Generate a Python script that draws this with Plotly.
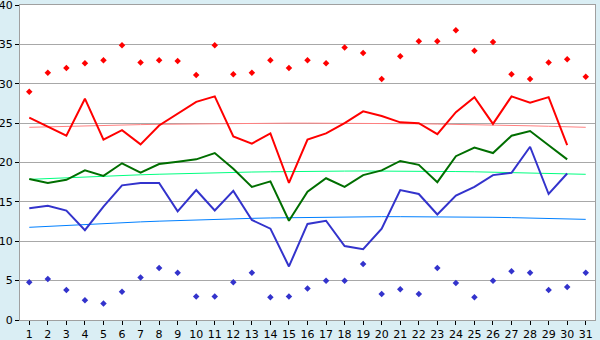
import plotly.graph_objects as go

days = list(range(1, 32))

max_points = [29.0, 31.4, 32.0, 32.6, 33.0, 34.9, 32.7, 33.0, 32.9, 31.1,
              34.9, 31.2, 31.4, 33.0, 32.0, 33.0, 32.6, 34.6, 33.9, 30.6,
              33.5, 35.4, 35.4, 36.8, 34.2, 35.3, 31.2, 30.6, 32.7, 33.1, 30.9]
min_points = [4.8, 5.2, 3.8, 2.5, 2.1, 3.6, 5.4, 6.6, 6.0, 3.0,
              3.0, 4.8, 6.0, 2.9, 3.0, 4.0, 5.0, 5.0, 7.1, 3.3,
              3.9, 3.3, 6.6, 4.7, 2.9, 5.0, 6.2, 6.0, 3.8, 4.2, 6.0]
avg_max = [25.7, 24.5, 23.4, 28.1, 22.9, 24.1, 22.3, 24.7, 26.2, 27.7,
           28.4, 23.3, 22.4, 23.7, 17.4, 22.9, 23.7, 25.0, 26.5, 25.9,
           25.1, 25.0, 23.6, 26.4, 28.3, 24.9, 28.4, 27.6, 28.3, 22.2]
avg_mean = [17.9, 17.4, 17.8, 19.0, 18.3, 19.9, 18.7, 19.8, 20.1, 20.4,
            21.2, 19.2, 16.9, 17.6, 12.6, 16.3, 18.0, 16.9, 18.4, 19.0,
            20.2, 19.7, 17.5, 20.8, 21.9, 21.2, 23.4, 24.0, 22.2, 20.4]
avg_min = [14.2, 14.5, 13.9, 11.4, 14.4, 17.1, 17.4, 17.4, 13.8, 16.5,
           13.9, 16.4, 12.7, 11.6, 6.8, 12.2, 12.6, 9.4, 9.0, 11.6,
           16.5, 16.0, 13.4, 15.8, 16.9, 18.4, 18.7, 22.0, 16.0, 18.6]
trend_max = [24.47, 24.54, 24.60, 24.66, 24.72, 24.76, 24.81, 24.85, 24.88, 24.92,
             24.94, 24.96, 24.98, 24.99, 25.00, 25.00, 25.00, 24.99, 24.98, 24.96,
             24.94, 24.92, 24.88, 24.85, 24.81, 24.76, 24.72, 24.66, 24.60, 24.54, 24.47]
trend_mean = [17.86, 17.97, 18.08, 18.18, 18.27, 18.36, 18.44, 18.51, 18.58, 18.64,
              18.70, 18.74, 18.79, 18.82, 18.86, 18.88, 18.90, 18.91, 18.92, 18.92,
              18.91, 18.90, 18.88, 18.85, 18.82, 18.78, 18.74, 18.69, 18.63, 18.57, 18.50]
trend_min = [11.77, 11.90, 12.03, 12.15, 12.26, 12.36, 12.46, 12.55, 12.64, 12.72,
             12.79, 12.85, 12.91, 12.96, 13.00, 13.04, 13.07, 13.09, 13.11, 13.12,
             13.12, 13.12, 13.11, 13.09, 13.07, 13.04, 13.00, 12.95, 12.90, 12.85, 12.78]
y_ticks = [0, 5, 10, 15, 20, 25, 30, 35, 40]

RED = "#FF0000"
GREEN = "#006E00"
BLUE = "#3333CC"

fig = go.Figure()
fig.add_trace(go.Scatter(x=days, y=trend_max, mode="lines",
                         line=dict(color="#FF8080", width=1), hoverinfo="skip"))
fig.add_trace(go.Scatter(x=days, y=trend_mean, mode="lines",
                         line=dict(color="#00FF80", width=1), hoverinfo="skip"))
fig.add_trace(go.Scatter(x=days, y=trend_min, mode="lines",
                         line=dict(color="#0080FF", width=1), hoverinfo="skip"))
fig.add_trace(go.Scatter(x=days[:30], y=avg_max, mode="lines",
                         line=dict(color=RED, width=2)))
fig.add_trace(go.Scatter(x=days[:30], y=avg_mean, mode="lines",
                         line=dict(color=GREEN, width=2)))
fig.add_trace(go.Scatter(x=days[:30], y=avg_min, mode="lines",
                         line=dict(color=BLUE, width=2)))
fig.add_trace(go.Scatter(x=days, y=max_points, mode="markers",
                         marker=dict(color=RED, size=5, symbol="diamond")))
fig.add_trace(go.Scatter(x=days, y=min_points, mode="markers",
                         marker=dict(color=BLUE, size=5, symbol="diamond")))

fig.update_layout(
    width=600, height=340,
    margin=dict(l=20, r=5, t=5, b=20),
    paper_bgcolor="#DAEEF4",
    plot_bgcolor="#FFFFFF",
    showlegend=False,
    font=dict(family="DejaVu Sans", size=11, color="#000000"),
)
fig.update_xaxes(
    range=[0.5, 31.5], tickmode="array", tickvals=days,
    ticktext=[str(d) for d in days],
    showgrid=False, zeroline=False, automargin=False,
    showline=True, linecolor="#A0A0A0", linewidth=1, mirror=True,
    ticks="outside", ticklen=4, tickcolor="#000000",
    tickfont=dict(size=11), fixedrange=True, ticklabeloverflow="allow",
)
fig.update_yaxes(
    range=[0, 40], tickmode="array", tickvals=y_ticks,
    showgrid=True, gridcolor="#A8A8A8", gridwidth=1, zeroline=False, automargin=False,
    showline=True, linecolor="#A0A0A0", linewidth=1, mirror=True,
    ticks="outside", ticklen=4, tickcolor="#000000",
    tickfont=dict(size=11), fixedrange=True, ticklabeloverflow="allow",
)

fig.write_html("out.html")
